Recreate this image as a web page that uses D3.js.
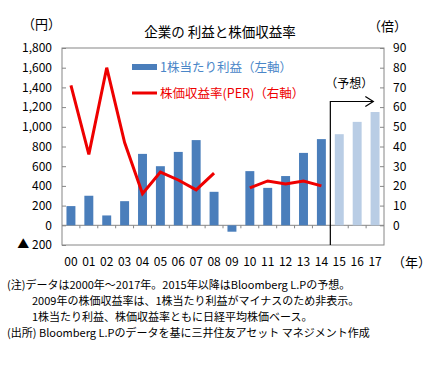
<!DOCTYPE html>
<html>
<head>
<meta charset="utf-8">
<script src="https://cdn.jsdelivr.net/npm/d3@7"></script>
<style>
  body { margin: 0; background: #fff; }
  text { font-family: "Noto Sans CJK JP", "Noto Sans", sans-serif; }
</style>
</head>
<body>
<div id="chart"></div>
<script>
// data
const years = ['00','01','02','03','04','05','06','07','08','09','10','11','12','13','14','15','16','17'];
const eps = [195, 300, 100, 245, 725, 600, 745, 865, 340, -65, 550, 380, 500, 735, 875, 925, 1050, 1150];
const forecastFrom = '15';
const per = [71, 36, 80, 42, 16, 27, 23, 18, 26.5, null, 19, 22.5, 21, 22.5, 20, null, null, null];
const leftTicks = [1800, 1600, 1400, 1200, 1000, 800, 600, 400, 200, 0, -200];
const rightTicks = [90, 80, 70, 60, 50, 40, 30, 20, 10, 0];
const notes = [
  '(注)データは2000年～2017年。2015年以降はBloomberg L.Pの予想。',
  '2009年の株価収益率は、1株当たり利益がマイナスのため非表示。',
  '1株当たり利益、株価収益率ともに日経平均株価ベース。',
  '(出所) Bloomberg L.Pのデータを基に三井住友アセット マネジメント作成'
];

const W = 440, H = 366;
const plot = { left: 62, right: 384, top: 48, bottom: 245 };

const svg = d3.select('#chart').append('svg')
  .attr('width', W).attr('height', H);

const x = d3.scaleBand().domain(years).range([plot.left, plot.right]).paddingInner(0.5).paddingOuter(0.25);
const xb = d3.scaleBand().domain(years).range([plot.left, plot.right]);
const yL = d3.scaleLinear().domain([-200, 1800]).range([plot.bottom, plot.top]);
const yR = d3.scaleLinear().domain([-10, 90]).range([plot.bottom, plot.top]);

// title
svg.append('text').attr('x', 220).attr('y', 37).attr('text-anchor', 'middle')
  .attr('font-size', 13.5).text('企業の 利益と株価収益率');
svg.append('text').attr('x', 22).attr('y', 29).attr('font-size', 13).text('（円）');
svg.append('text').attr('x', 368).attr('y', 31).attr('font-size', 13).text('（倍）');

// plot frame
svg.append('rect').attr('x', plot.left).attr('y', plot.top)
  .attr('width', plot.right - plot.left).attr('height', plot.bottom - plot.top)
  .attr('fill', 'none').attr('stroke', '#868686').attr('stroke-width', 1);

// left axis
const axL = d3.axisLeft(yL).tickValues(leftTicks).tickSizeInner(-4).tickSizeOuter(0)
  .tickFormat(d => d < 0 ? '▲ ' + d3.format(',')(-d) : d3.format(',')(d));
const gL = svg.append('g').attr('transform', `translate(${plot.left},0)`).call(axL);
gL.select('.domain').remove();
gL.selectAll('line').attr('stroke', '#868686');
gL.selectAll('text').attr('x', -10).attr('font-size', 12).attr('fill', '#000')
  .attr('font-family', '"Liberation Sans", Arial, sans-serif');

// right axis
const axR = d3.axisRight(yR).tickValues(rightTicks).tickSizeInner(-4).tickSizeOuter(0);
const gR = svg.append('g').attr('transform', `translate(${plot.right},0)`).call(axR);
gR.select('.domain').remove();
gR.selectAll('line').attr('stroke', '#868686');
gR.selectAll('text').attr('x', 9).attr('font-size', 12).attr('fill', '#000')
  .attr('font-family', '"Liberation Sans", Arial, sans-serif');

// zero line with category ticks
svg.append('line').attr('x1', plot.left).attr('x2', plot.right)
  .attr('y1', yL(0)).attr('y2', yL(0)).attr('stroke', '#868686');
svg.append('g').selectAll('line').data(years.slice(1)).join('line')
  .attr('x1', d => xb(d)).attr('x2', d => xb(d))
  .attr('y1', yL(0)).attr('y2', yL(0) + 3).attr('stroke', '#868686');

// x labels
svg.append('g').selectAll('text').data(years).join('text')
  .attr('x', d => xb(d) + xb.bandwidth() / 2).attr('y', 266)
  .attr('text-anchor', 'middle').attr('font-size', 12)
  .attr('font-family', '"Liberation Sans", Arial, sans-serif')
  .text(d => d);
svg.append('text').attr('x', 392).attr('y', 267).attr('font-size', 13).text('（年）');

// bars
const isForecast = d => years.indexOf(d) >= years.indexOf(forecastFrom);
svg.append('g').selectAll('rect').data(years).join('rect')
  .attr('x', d => x(d)).attr('width', x.bandwidth())
  .attr('y', (d, i) => yL(Math.max(0, eps[i])))
  .attr('height', (d, i) => Math.abs(yL(eps[i]) - yL(0)))
  .attr('fill', d => isForecast(d) ? '#b9cde5' : '#4a7ebb');

// PER line
const line = d3.line()
  .defined(d => d.v !== null)
  .x(d => xb(d.k) + xb.bandwidth() / 2)
  .y(d => yR(d.v));
svg.append('path').datum(years.map((k, i) => ({ k, v: per[i] })))
  .attr('d', line).attr('fill', 'none').attr('stroke', '#ee0000')
  .attr('stroke-width', 3).attr('stroke-linejoin', 'miter');

// forecast bracket
const fx = xb(forecastFrom);
const fy = 101.5;
svg.append('path')
  .attr('d', `M${fx},${plot.bottom}V${fy}H${fx + 43}`)
  .attr('fill', 'none').attr('stroke', '#000').attr('stroke-width', 1.2);
svg.append('path')
  .attr('d', `M${fx + 35},${fy - 5}L${fx + 43},${fy}L${fx + 35},${fy + 5}`)
  .attr('fill', 'none').attr('stroke', '#000').attr('stroke-width', 1.2);
svg.append('text').attr('x', fx - 5).attr('y', 88).attr('font-size', 12).text('（予想）');

// legend
const lg = svg.append('g');
lg.append('rect').attr('x', 132).attr('y', 64).attr('width', 25).attr('height', 6).attr('fill', '#4a7ebb');
lg.append('text').attr('x', 160).attr('y', 72).attr('font-size', 12.5).attr('fill', '#4a86c8')
  .text('1株当たり利益（左軸）');
lg.append('line').attr('x1', 132).attr('x2', 157).attr('y1', 93).attr('y2', 93)
  .attr('stroke', '#ee0000').attr('stroke-width', 3);
lg.append('text').attr('x', 160).attr('y', 98).attr('font-size', 12.5).attr('fill', '#ee0000')
  .text('株価収益率(PER)（右軸）');

// notes
const noteX = [7, 32, 32, 7];
const noteY = [289, 305, 321, 337];
svg.append('g').selectAll('text').data(notes).join('text')
  .attr('x', (d, i) => noteX[i]).attr('y', (d, i) => noteY[i])
  .attr('font-size', 11).text(d => d);
</script>
</body>
</html>
